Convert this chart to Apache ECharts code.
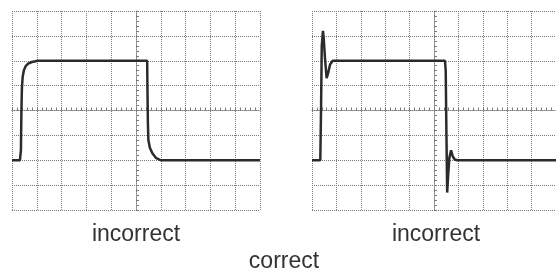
<!DOCTYPE html>
<html>
<head>
<meta charset="utf-8">
<script src="https://cdn.jsdelivr.net/npm/echarts@6/dist/echarts.min.js"></script>
<style>
  html, body { margin: 0; padding: 0; background: #fff; }
  #chart { width: 556px; height: 275px; }
</style>
</head>
<body>
<div id="chart"></div>
<script>
// trace points in screen divisions (x: -5..5, y: -4..4)
const leftX = [-5, -4.68, -4.64, -4.62, -4.6, -4.57, -4.52, -4.45, -4.35, -4.2, -3.95, 0.45, 0.46, 0.48, 0.5, 0.56, 0.66, 0.8, 1.0, 5];
const leftY = [-2, -2, -1.6, 0, 0.9, 1.35, 1.62, 1.78, 1.88, 1.95, 2, 2, 1.0, -0.5, -1.2, -1.5, -1.72, -1.9, -2, -2];

const rightX = [-5, -4.66, -4.63, -4.6, -4.55, -4.52, -4.46, -4.40, -4.34, -4.26, -4.15, 0.45, 0.48, 0.51, 0.54, 0.58, 0.63, 0.7, 0.77, 0.85, 0.95, 5];
const rightY = [-2, -2, 0, 2.6, 3.2, 2.9, 2.0, 1.3, 1.5, 1.85, 2, 2, 1.6, -1.0, -3.3, -2.6, -1.9, -1.6, -1.85, -1.97, -2, -2];

const labels = ["incorrect", "incorrect", "correct"];

const gridColor = "#7a7a7a";
const traceColor = "#2b2b2b";

function pairs(xs, ys) {
  return xs.map((x, i) => [x, ys[i]]);
}

function makeX(idx) {
  return {
    gridIndex: idx,
    type: "value",
    min: -5,
    max: 5,
    interval: 1,
    axisLine: { show: true, onZero: true, lineStyle: { color: gridColor, type: "dotted", width: 1 } },
    axisTick: { show: true, inside: true, length: 3, lineStyle: { color: gridColor } },
    minorTick: { show: true, splitNumber: 5, length: 3, lineStyle: { color: gridColor } },
    axisLabel: { show: false },
    splitLine: { show: true, lineStyle: { color: gridColor, type: "dotted", width: 1 } },
  };
}

function makeY(idx) {
  return {
    gridIndex: idx,
    type: "value",
    min: -4,
    max: 4,
    interval: 1,
    axisLine: { show: true, onZero: true, lineStyle: { color: gridColor, type: "dotted", width: 1 } },
    axisTick: { show: true, inside: true, length: 3, lineStyle: { color: gridColor } },
    minorTick: { show: true, splitNumber: 5, length: 3, lineStyle: { color: gridColor } },
    axisLabel: { show: false },
    splitLine: { show: true, lineStyle: { color: gridColor, type: "dotted", width: 1 } },
  };
}

const chart = echarts.init(document.getElementById("chart"));

chart.setOption({
  animation: false,
  backgroundColor: "#fff",
  grid: [
    { left: 12, top: 11, width: 248, height: 199 },
    { left: 312, top: 11, width: 248, height: 199 },
  ],
  xAxis: [makeX(0), makeX(1)],
  yAxis: [makeY(0), makeY(1)],
  series: [
    {
      type: "line",
      xAxisIndex: 0,
      yAxisIndex: 0,
      data: pairs(leftX, leftY),
      showSymbol: false,
      lineStyle: { color: traceColor, width: 2.5 },
    },
    {
      type: "line",
      xAxisIndex: 1,
      yAxisIndex: 1,
      data: pairs(rightX, rightY),
      showSymbol: false,
      lineStyle: { color: traceColor, width: 2.5 },
    },
  ],
  graphic: [
    {
      type: "text",
      x: 136,
      y: 246,
      style: { text: labels[0], fill: "#333", font: "23px 'Liberation Sans'", align: "center", verticalAlign: "bottom" },
    },
    {
      type: "text",
      x: 436,
      y: 246,
      style: { text: labels[1], fill: "#333", font: "23px 'Liberation Sans'", align: "center", verticalAlign: "bottom" },
    },
    {
      type: "text",
      x: 284,
      y: 273,
      style: { text: labels[2], fill: "#333", font: "23px 'Liberation Sans'", align: "center", verticalAlign: "bottom" },
    },
  ],
});
</script>
</body>
</html>
